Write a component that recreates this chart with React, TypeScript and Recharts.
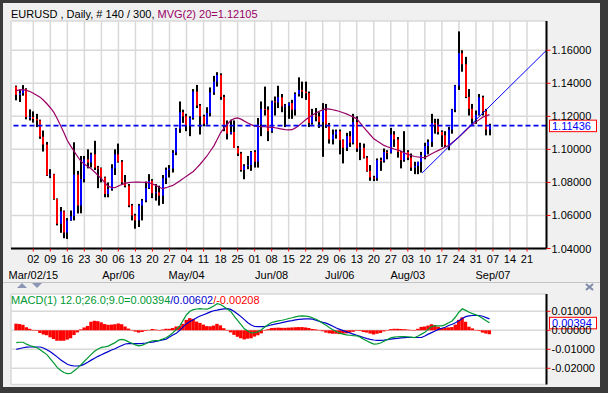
import React from 'react';
import { ComposedChart, Bar, Line, XAxis, YAxis, CartesianGrid, ReferenceLine } from 'recharts';

const FONT = "'Liberation Sans', Arial, Helvetica, sans-serif";

// Trading-day index of the first bar (Feb 23, 2015); index 0 = Mar 02, 2015
const FIRST_BAR = -5;

const opens = [
  1.1380, 1.1330, 1.1340, 1.1365, 1.1195,
  1.1196, 1.1184, 1.1175, 1.1077, 1.1029,
  1.0843, 1.0849, 1.0700, 1.0550, 1.0625,
  1.0496, 1.0570, 1.0595, 1.0847, 1.0660,
  1.0820, 1.0940, 1.0920, 1.0970, 1.0890,
  1.0887, 1.0830, 1.0730, 1.0760, 1.0885,
  1.0970, 1.0925, 1.0800, 1.0780, 1.0660,
  1.0600, 1.0570, 1.0660, 1.0690, 1.0765,
  1.0810, 1.0735, 1.0740, 1.0720, 1.0825,
  1.0875, 1.0885, 1.0980, 1.1125, 1.1225,
  1.1200, 1.1145, 1.1190, 1.1350, 1.1265,
  1.1200, 1.1155, 1.1220, 1.1345, 1.1410,
  1.1450, 1.1317, 1.1145, 1.1095, 1.1105,
  1.1010, 1.0975, 1.0875, 1.0900, 1.0905,
  1.0985, 1.0925, 1.1150, 1.1245, 1.1240,
  1.1110, 1.1290, 1.1285, 1.1315, 1.1260,
  1.1265, 1.1280, 1.1240, 1.1335, 1.1360,
  1.1350, 1.1340, 1.1160, 1.1205, 1.1200,
  1.1165, 1.1235, 1.1150, 1.1060, 1.1090,
  1.1110, 1.1055, 1.1010, 1.1080, 1.1040,
  1.1165, 1.1005, 1.1010, 1.0950, 1.0870,
  1.0830, 1.0825, 1.0935, 1.0930, 1.0985,
  1.0980, 1.1090, 1.1060, 1.0985, 1.0935,
  1.0985, 1.0950, 1.0890, 1.0900, 1.0925,
  1.0965, 1.1020, 1.1045, 1.1160, 1.1150,
  1.1105, 1.1085, 1.1025, 1.1120, 1.1240,
  1.1385, 1.1582, 1.1515, 1.1318, 1.1245,
  1.1185, 1.1210, 1.1315, 1.1230, 1.1120,
];

const highs = [
  1.1386, 1.1361, 1.1389, 1.1370, 1.1242,
  1.1230, 1.1215, 1.1180, 1.1114, 1.1045,
  1.0880, 1.0852, 1.0703, 1.0651, 1.0630,
  1.0584, 1.0630, 1.1043, 1.0870, 1.0960,
  1.0960, 1.1000, 1.0980, 1.1052, 1.0900,
  1.0890, 1.0835, 1.0800, 1.0910, 1.1000,
  1.1035, 1.0935, 1.0845, 1.0790, 1.0670,
  1.0610, 1.0670, 1.0700, 1.0805, 1.0850,
  1.0820, 1.0790, 1.0780, 1.0845, 1.0890,
  1.0905, 1.0995, 1.1130, 1.1290, 1.1240,
  1.1215, 1.1200, 1.1365, 1.1390, 1.1275,
  1.1210, 1.1255, 1.1375, 1.1445, 1.1467,
  1.1460, 1.1330, 1.1175, 1.1180, 1.1175,
  1.1020, 1.0985, 1.0910, 1.0960, 1.0990,
  1.0995, 1.1190, 1.1290, 1.1380, 1.1260,
  1.1295, 1.1320, 1.1385, 1.1335, 1.1275,
  1.1285, 1.1300, 1.1345, 1.1436, 1.1410,
  1.1410, 1.1350, 1.1245, 1.1250, 1.1225,
  1.1280, 1.1275, 1.1160, 1.1120, 1.1120,
  1.1120, 1.1060, 1.1100, 1.1110, 1.1215,
  1.1200, 1.1040, 1.1035, 1.0960, 1.0905,
  1.0840, 1.0945, 1.0950, 1.1005, 1.0995,
  1.1130, 1.1110, 1.1075, 1.0990, 1.1110,
  1.0995, 1.0975, 1.0925, 1.0925, 1.0985,
  1.1040, 1.1060, 1.1215, 1.1185, 1.1185,
  1.1115, 1.1110, 1.1135, 1.1245, 1.1390,
  1.1714, 1.1600, 1.1560, 1.1365, 1.1275,
  1.1235, 1.1335, 1.1325, 1.1245, 1.1155,
];

const lows = [
  1.1297, 1.1287, 1.1325, 1.1182, 1.1175,
  1.1162, 1.1135, 1.1064, 1.0987, 1.0839,
  1.0826, 1.0695, 1.0540, 1.0495, 1.0462,
  1.0458, 1.0568, 1.0570, 1.0612, 1.0613,
  1.0800, 1.0885, 1.0890, 1.0875, 1.0765,
  1.0800, 1.0710, 1.0710, 1.0750, 1.0845,
  1.0920, 1.0790, 1.0770, 1.0650, 1.0570,
  1.0520, 1.0530, 1.0570, 1.0680, 1.0760,
  1.0705, 1.0690, 1.0660, 1.0670, 1.0790,
  1.0830, 1.0860, 1.0965, 1.1100, 1.1160,
  1.1110, 1.1080, 1.1180, 1.1250, 1.1090,
  1.1140, 1.1150, 1.1200, 1.1330, 1.1380,
  1.1300, 1.1110, 1.1060, 1.1090, 1.1010,
  1.0960, 1.0865, 1.0819, 1.0880, 1.0870,
  1.0890, 1.0890, 1.1080, 1.1205, 1.1050,
  1.1100, 1.1205, 1.1250, 1.1225, 1.1135,
  1.1185, 1.1185, 1.1205, 1.1320, 1.1310,
  1.1300, 1.1135, 1.1150, 1.1170, 1.1130,
  1.0955, 1.1130, 1.1035, 1.1030, 1.1065,
  1.0970, 1.0915, 1.0990, 1.1015, 1.1030,
  1.0985, 1.0935, 1.0945, 1.0865, 1.0810,
  1.0808, 1.0810, 1.0870, 1.0920, 1.0940,
  1.0975, 1.1015, 1.0950, 1.0885, 1.0925,
  1.0935, 1.0870, 1.0850, 1.0850, 1.0860,
  1.0940, 1.0970, 1.1015, 1.1095, 1.1090,
  1.1015, 1.1015, 1.0995, 1.1095, 1.1225,
  1.1360, 1.1470, 1.1310, 1.1205, 1.1155,
  1.1155, 1.1205, 1.1205, 1.1085, 1.1085,
];

const closes = [
  1.1330, 1.1340, 1.1365, 1.1195, 1.1196,
  1.1184, 1.1175, 1.1077, 1.1029, 1.0843,
  1.0849, 1.0700, 1.0550, 1.0625, 1.0496,
  1.0570, 1.0595, 1.0847, 1.0660, 1.0820,
  1.0940, 1.0920, 1.0970, 1.0890, 1.0887,
  1.0830, 1.0730, 1.0760, 1.0885, 1.0970,
  1.0925, 1.0800, 1.0780, 1.0660, 1.0600,
  1.0570, 1.0660, 1.0690, 1.0765, 1.0810,
  1.0735, 1.0740, 1.0720, 1.0825, 1.0875,
  1.0885, 1.0980, 1.1125, 1.1225, 1.1200,
  1.1145, 1.1190, 1.1350, 1.1265, 1.1200,
  1.1155, 1.1220, 1.1345, 1.1410, 1.1450,
  1.1317, 1.1145, 1.1095, 1.1105, 1.1010,
  1.0975, 1.0875, 1.0900, 1.0905, 1.0985,
  1.0925, 1.1150, 1.1245, 1.1240, 1.1110,
  1.1290, 1.1285, 1.1315, 1.1260, 1.1265,
  1.1280, 1.1240, 1.1335, 1.1360, 1.1350,
  1.1340, 1.1160, 1.1205, 1.1200, 1.1165,
  1.1235, 1.1150, 1.1060, 1.1090, 1.1110,
  1.1055, 1.1010, 1.1080, 1.1040, 1.1165,
  1.1005, 1.1010, 1.0950, 1.0870, 1.0830,
  1.0825, 1.0935, 1.0930, 1.0985, 1.0980,
  1.1090, 1.1060, 1.0985, 1.0935, 1.0985,
  1.0950, 1.0890, 1.0900, 1.0925, 1.0965,
  1.1020, 1.1045, 1.1160, 1.1150, 1.1105,
  1.1085, 1.1025, 1.1120, 1.1240, 1.1385,
  1.1582, 1.1515, 1.1318, 1.1245, 1.1185,
  1.1210, 1.1315, 1.1230, 1.1120, 1.11436,
];

// MVG(2) 20 - moving average line
const ma20 = [
  1.1356, 1.1360, 1.1362, 1.1357, 1.1350,
  1.1340, 1.1328, 1.1316, 1.1297, 1.1276,
  1.1252, 1.1225, 1.1187, 1.1145, 1.1100,
  1.1054, 1.1020, 1.0988, 1.0957, 1.0927,
  1.0911, 1.0897, 1.0883, 1.0863, 1.0843,
  1.0823, 1.0799, 1.0776, 1.0770, 1.0768,
  1.0778, 1.0787, 1.0794, 1.0799, 1.0801,
  1.0802, 1.0802, 1.0801, 1.0800, 1.0799,
  1.0790, 1.0782, 1.0771, 1.0762, 1.0768,
  1.0775, 1.0782, 1.0795, 1.0809, 1.0823,
  1.0838, 1.0852, 1.0866, 1.0888, 1.0910,
  1.0935, 1.0960, 1.0990, 1.1020, 1.1060,
  1.1100, 1.1128, 1.1152, 1.1175, 1.1186,
  1.1191, 1.1183, 1.1171, 1.1160, 1.1150,
  1.1141, 1.1139, 1.1138, 1.1137, 1.1135,
  1.1133, 1.1131, 1.1127, 1.1123, 1.1119,
  1.1118, 1.1119, 1.1130, 1.1145, 1.1162,
  1.1179, 1.1195, 1.1208, 1.1220, 1.1231,
  1.1239, 1.1246, 1.1244, 1.1240, 1.1235,
  1.1229, 1.1222, 1.1215, 1.1205, 1.1195,
  1.1185, 1.1160, 1.1134, 1.1110, 1.1087,
  1.1064, 1.1050, 1.1037, 1.1024, 1.1016,
  1.1009, 1.1002, 1.0996, 1.0990, 1.0977,
  1.0970, 1.0963, 1.0957, 1.0954, 1.0951,
  1.0950, 1.0962, 1.0974, 1.0984, 1.0994,
  1.1004, 1.1014, 1.1024, 1.1040, 1.1057,
  1.1074, 1.1094, 1.1114, 1.1134, 1.1150,
  1.1165, 1.1180, 1.1195, 1.1203, 1.12105,
];

const macdLine = [
  -0.0065, -0.0063, -0.0063, -0.0073, -0.0080,
  -0.0086, -0.0091, -0.0102, -0.0115, -0.0128,
  -0.0150, -0.0172, -0.0195, -0.0210, -0.0222,
  -0.0228, -0.0227, -0.0213, -0.0199, -0.0181,
  -0.0163, -0.0145, -0.0127, -0.0110, -0.0098,
  -0.0090, -0.0087, -0.0083, -0.0074, -0.0065,
  -0.0052, -0.0048, -0.0052, -0.0061, -0.0068,
  -0.0077, -0.0082, -0.0078, -0.0071, -0.0062,
  -0.0055, -0.0054, -0.0053, -0.0046, -0.0039,
  -0.0027, -0.0013, 0.0004, 0.0022, 0.0052,
  0.0082, 0.0100, 0.0109, 0.0112, 0.0114,
  0.0112, 0.0111, 0.0118, 0.0128, 0.0140,
  0.0136, 0.0124, 0.0112, 0.0099, 0.0075,
  0.0052, 0.0030, 0.0008, -0.0004, -0.0014,
  -0.0013, -0.0007, 0.0003, 0.0017, 0.0030,
  0.0041, 0.0046, 0.0050, 0.0053, 0.0057,
  0.0062, 0.0066, 0.0071, 0.0075, 0.0076,
  0.0075, 0.0072, 0.0066, 0.0058, 0.0049,
  0.0037, 0.0026, 0.0014, 0.0003, -0.0006,
  -0.0015, -0.0020, -0.0024, -0.0026, -0.0028,
  -0.0029, -0.0036, -0.0047, -0.0056, -0.0065,
  -0.0073, -0.0071, -0.0067, -0.0058, -0.0048,
  -0.0040, -0.0036, -0.0034, -0.0033, -0.0033,
  -0.0034, -0.0036, -0.0038, -0.0030, -0.0020,
  -0.0010, 0.0005, 0.0020, 0.0023, 0.0023,
  0.0023, 0.0030, 0.0040, 0.0049, 0.0070,
  0.0095, 0.0113, 0.0105, 0.0095, 0.0088,
  0.0081, 0.0074, 0.0062, 0.0050, 0.00394,
];

const signalLine = [
  -0.0100, -0.0096, -0.0092, -0.0089, -0.0088,
  -0.0088, -0.0088, -0.0088, -0.0093, -0.0102,
  -0.0113, -0.0126, -0.0140, -0.0155, -0.0167,
  -0.0179, -0.0185, -0.0188, -0.0188, -0.0186,
  -0.0178, -0.0168, -0.0157, -0.0147, -0.0137,
  -0.0129, -0.0120, -0.0112, -0.0104, -0.0097,
  -0.0088, -0.0080, -0.0072, -0.0070, -0.0070,
  -0.0070, -0.0070, -0.0069, -0.0067, -0.0064,
  -0.0062, -0.0058, -0.0054, -0.0050, -0.0047,
  -0.0035, -0.0025, -0.0016, 0.0000, 0.0018,
  0.0035, 0.0046, 0.0056, 0.0066, 0.0075,
  0.0082, 0.0089, 0.0097, 0.0103, 0.0106,
  0.0110, 0.0113, 0.0114, 0.0110, 0.0099,
  0.0086, 0.0072, 0.0056, 0.0040, 0.0028,
  0.0020, 0.0019, 0.0019, 0.0019, 0.0024,
  0.0029, 0.0033, 0.0036, 0.0040, 0.0044,
  0.0048, 0.0051, 0.0055, 0.0058, 0.0059,
  0.0060, 0.0060, 0.0059, 0.0053, 0.0047,
  0.0042, 0.0038, 0.0030, 0.0021, 0.0012,
  0.0005, -0.0002, -0.0008, -0.0014, -0.0020,
  -0.0026, -0.0032, -0.0038, -0.0044, -0.0048,
  -0.0051, -0.0053, -0.0053, -0.0052, -0.0049,
  -0.0046, -0.0044, -0.0042, -0.0040, -0.0039,
  -0.0038, -0.0038, -0.0038, -0.0038, -0.0038,
  -0.0030, -0.0020, -0.0012, -0.0004, 0.0005,
  0.0011, 0.0016, 0.0025, 0.0032, 0.0040,
  0.0050, 0.0062, 0.0072, 0.0076, 0.0078,
  0.0079, 0.0078, 0.0074, 0.0067, 0.00602,
];

const macdHist = [
  0.0035, 0.0033, 0.0029, 0.0016, 0.0008,
  0.0002, -0.0003, -0.0014, -0.0022, -0.0026,
  -0.0037, -0.0046, -0.0055, -0.0055, -0.0055,
  -0.0049, -0.0042, -0.0025, -0.0011, 0.0005,
  0.0015, 0.0023, 0.0045, 0.0050, 0.0048,
  0.0042, 0.0033, 0.0029, 0.0030, 0.0032,
  0.0036, 0.0032, 0.0020, 0.0009, 0.0002,
  -0.0007, -0.0012, -0.0009, -0.0004, 0.0002,
  0.0007, 0.0004, 0.0001, 0.0004, 0.0008,
  0.0008, 0.0012, 0.0020, 0.0022, 0.0034,
  0.0055, 0.0064, 0.0060, 0.0046, 0.0039,
  0.0030, 0.0022, 0.0021, 0.0025, 0.0034,
  0.0026, 0.0011, -0.0002, -0.0011, -0.0024,
  -0.0034, -0.0042, -0.0048, -0.0044, -0.0042,
  -0.0033, -0.0026, -0.0016, -0.0002, 0.0006,
  0.0012, 0.0013, 0.0014, 0.0013, 0.0013,
  0.0014, 0.0015, 0.0016, 0.0017, 0.0017,
  0.0015, 0.0012, 0.0007, 0.0005, 0.0002,
  -0.0005, -0.0012, -0.0016, -0.0018, -0.0018,
  -0.0020, -0.0018, -0.0016, -0.0012, -0.0008,
  -0.0003, -0.0004, -0.0009, -0.0012, -0.0017,
  -0.0022, -0.0018, -0.0014, -0.0006, 0.0001,
  0.0006, 0.0008, 0.0008, 0.0007, 0.0006,
  0.0004, 0.0002, 0.0000, 0.0008, 0.0018,
  0.0020, 0.0025, 0.0032, 0.0027, 0.0018,
  0.0012, 0.0014, 0.0015, 0.0017, 0.0030,
  0.0055, 0.0068, 0.0045, 0.0019, 0.0010,
  0.0002, -0.0004, -0.0012, -0.0017, -0.00208,
];

const weekTicks = [0, 5, 10, 15, 20, 25, 30, 35, 40, 45, 50, 55, 60, 65, 70, 75, 80, 85, 90, 95, 100, 105, 110, 115, 120, 125, 130, 135, 140, 145];
const dayLabels = ['02', '09', '16', '23', '30', '06', '13', '20', '27', '04', '11', '18', '25', '01', '08', '15', '22', '29', '06', '13', '20', '27', '03', '10', '17', '24', '31', '07', '14', '21'];
const monthLabels: Record<number, string> = { 0: 'Mar/02/15', 25: 'Apr/06', 45: 'May/04', 70: 'Jun/08', 90: 'Jul/06', 110: 'Aug/03', 135: 'Sep/07' };
const priceTicks = [1.04, 1.06, 1.08, 1.1, 1.12, 1.14, 1.16];
const macdTicks = [-0.02, -0.01, 0, 0.01];

const lastPrice = 1.11436;
const lastMacd = 0.00394;
const lastSignal = 0.00602;
const lastHist = -0.00208;
const lastMa = 1.12105;

const trendPoints = [
  { i: 114.2, v: 1.0857 },
  { i: 150.73, v: 1.16 },
];

const X_DOMAIN: [number, number] = [-6.55, 150.73];
const PRICE_DOMAIN: [number, number] = [1.04, 1.1777];
const MACD_DOMAIN: [number, number] = [-0.02853, 0.01911];

const priceData = opens.map((o, k) => ({
  i: FIRST_BAR + k, open: o, high: highs[k], low: lows[k], close: closes[k], ma: ma20[k],
}));
const macdData = macdLine.map((m, k) => ({
  i: FIRST_BAR + k, macd: m, signal: signalLine[k], hist: macdHist[k],
}));

const OhlcShape = (props: any) => {
  const { x, y, width, height, payload } = props;
  if (x == null || y == null || !payload) return null;
  const top = Math.min(y, y + height);
  const h = Math.abs(height);
  const { open, high, low, close } = payload;
  const range = high - low || 1e-9;
  const yO = top + ((high - open) / range) * h;
  const yC = top + ((high - close) / range) * h;
  const cx = Math.round(x + width / 2);
  const color = close >= open ? '#0000ff' : '#ff0000';
  return (
    <g>
      <rect x={cx - 1} y={top} width={2} height={Math.max(h, 1)} fill="#000" />
      <rect x={cx - 1} y={Math.min(yO, yC)} width={2} height={Math.max(Math.abs(yC - yO), 1)} fill={color} />
    </g>
  );
};

const HistShape = (props: any) => {
  const { x, y, width, height } = props;
  if (x == null || y == null) return null;
  const top = Math.min(y, y + height);
  const h = Math.max(Math.abs(height), 0.5);
  const cx = x + width / 2;
  return <rect x={cx - 1.7} y={top} width={3.4} height={h} fill="#ff0000" />;
};

const DayTick = (props: any) => {
  const { x, y, payload } = props;
  const k = weekTicks.indexOf(payload.value);
  const month = monthLabels[payload.value];
  return (
    <g>
      <text x={x} y={y + 9} textAnchor="middle" fontSize={11} fontFamily={FONT} fill="#000">{dayLabels[k]}</text>
      {month ? (
        <text x={x} y={y + 25} textAnchor="middle" fontSize={11} fontFamily={FONT} fill="#000">{month}</text>
      ) : null}
    </g>
  );
};

const ValueTick = (props: any) => {
  const { x, y, payload } = props;
  return (
    <text x={x} y={y + 4} textAnchor="start" fontSize={11} fontFamily={FONT} fill="#000">
      {Number(payload.value).toFixed(5)}
    </text>
  );
};

const ValueBox = (props: any) => {
  const { viewBox, text } = props;
  if (!viewBox) return null;
  const x0 = viewBox.x + viewBox.width + 3;
  const yc = viewBox.y;
  return (
    <g>
      <rect x={x0} y={yc - 5.5} width={47} height={11.5} fill="#fff" stroke="#ff0000" strokeWidth={1} />
      <text x={x0 + 2.5} y={yc + 4} fontSize={11} fontFamily={FONT} fill="#0000ff">{text}</text>
    </g>
  );
};

const borderAxis = { stroke: '#000', strokeWidth: 2 };

export default function App() {
  return (
    <div style={{ position: 'absolute', left: 0, top: 0, width: 608, height: 393, background: '#3a3a3a', overflow: 'hidden' }}>
      <div style={{ position: 'absolute', left: 3, top: 3, width: 597, height: 384, background: '#f0f0f0' }} />
      <div style={{ position: 'absolute', left: 3, top: 282, width: 597, height: 1, background: '#c4c4c4' }} />

      <div style={{ position: 'absolute', left: 0, top: 0 }}>
        <ComposedChart width={608} height={283} data={priceData} margin={{ top: 21, left: 11, right: 6.5, bottom: 4.5 }}>
          <CartesianGrid stroke="#d9d9d9" strokeWidth={1.5} fill="#ffffff" fillOpacity={1} />
          <XAxis
            dataKey="i" type="number" domain={X_DOMAIN} allowDataOverflow ticks={weekTicks} interval={0}
            height={30} tickSize={3} tickMargin={2} tickLine={{ stroke: '#ff0000', strokeWidth: 1 }}
            axisLine={borderAxis} tick={<DayTick />}
          />
          <XAxis xAxisId="top" orientation="top" type="number" domain={X_DOMAIN} allowDataOverflow height={0} tick={false} tickLine={false} axisLine={borderAxis} />
          <YAxis
            orientation="right" type="number" domain={PRICE_DOMAIN} allowDataOverflow ticks={priceTicks} interval={0}
            width={55} tickSize={4} tickMargin={1} tickLine={{ stroke: '#ff0000', strokeWidth: 1 }}
            axisLine={borderAxis} tick={<ValueTick />}
          />
          <YAxis yAxisId="left" orientation="left" type="number" domain={[0, 1]} width={0} tick={false} tickLine={false} axisLine={borderAxis} />
          <Bar dataKey={(d: any) => [d.low, d.high]} barSize={2} shape={(p: any) => <OhlcShape {...p} />} isAnimationActive={false} />
          <Line dataKey="ma" stroke="#990066" strokeWidth={1.2} dot={false} activeDot={false} isAnimationActive={false} />
          <Line data={trendPoints} dataKey="v" stroke="#0000ff" strokeWidth={1} dot={false} activeDot={false} isAnimationActive={false} />
          <ReferenceLine
            y={lastPrice} stroke="#0000ee" strokeWidth={1.6} strokeDasharray="5 3" ifOverflow="visible"
            label={(p: any) => <ValueBox {...p} text={lastPrice.toFixed(5)} />}
          />
        </ComposedChart>
      </div>

      <div style={{ position: 'absolute', left: 0, top: 283 }}>
        <ComposedChart width={608} height={105} data={macdData} margin={{ top: 11, left: 11, right: 6.5, bottom: 3.5 }}>
          <CartesianGrid stroke="#d9d9d9" strokeWidth={1.5} fill="#ffffff" fillOpacity={1} />
          <XAxis
            dataKey="i" type="number" domain={X_DOMAIN} allowDataOverflow ticks={weekTicks} interval={0}
            height={0} tick={false} tickLine={false} axisLine={borderAxis}
          />
          <XAxis xAxisId="top" orientation="top" type="number" domain={X_DOMAIN} allowDataOverflow height={0} tick={false} tickLine={false} axisLine={borderAxis} />
          <YAxis
            orientation="right" type="number" domain={MACD_DOMAIN} allowDataOverflow ticks={macdTicks} interval={0}
            width={55} tickSize={4} tickMargin={1} tickLine={{ stroke: '#ff0000', strokeWidth: 1 }}
            axisLine={borderAxis} tick={<ValueTick />}
          />
          <YAxis yAxisId="left" orientation="left" type="number" domain={[0, 1]} width={0} tick={false} tickLine={false} axisLine={borderAxis} />
          <Bar dataKey="hist" barSize={3} shape={(p: any) => <HistShape {...p} />} isAnimationActive={false} />
          <Line dataKey="signal" stroke="#0000cc" strokeWidth={1.2} dot={false} activeDot={false} isAnimationActive={false} />
          <Line dataKey="macd" stroke="#009933" strokeWidth={1.2} dot={false} activeDot={false} isAnimationActive={false} />
          <ReferenceLine
            y={lastMacd} stroke="none" ifOverflow="visible"
            label={(p: any) => <ValueBox {...p} text={lastMacd.toFixed(5)} />}
          />
        </ComposedChart>
      </div>

      <svg width={608} height={393} style={{ position: 'absolute', left: 0, top: 0, pointerEvents: 'none' }}>
        <text x={11} y={17.5} fontSize={11} fontFamily={FONT} style={{ whiteSpace: 'pre' }}>
          <tspan fill="#000">{'EURUSD , Daily, # 140 / 300, '}</tspan>
          <tspan fill="#990066">{`MVG(2) 20=${lastMa.toFixed(5)}`}</tspan>
        </text>
        <text x={11} y={304} fontSize={11} fontFamily={FONT} style={{ whiteSpace: 'pre' }}>
          <tspan fill="#009933">{`MACD(1) 12.0;26.0;9.0=${lastMacd.toFixed(5)}`}</tspan>
          <tspan fill="#0000cc">{`/${lastSignal.toFixed(5)}`}</tspan>
          <tspan fill="#ff0000">{`/${lastHist.toFixed(5)}`}</tspan>
        </text>
        <polygon points="17,288 27,288 22,283" fill="#8a96b4" />
        <polygon points="32,283 42,283 37,288" fill="#8a96b4" />
        <line x1={586} y1={284} x2={593} y2={290} stroke="#7d8aa8" strokeWidth={2} />
        <line x1={593} y1={284} x2={586} y2={290} stroke="#7d8aa8" strokeWidth={2} />
      </svg>
    </div>
  );
}
